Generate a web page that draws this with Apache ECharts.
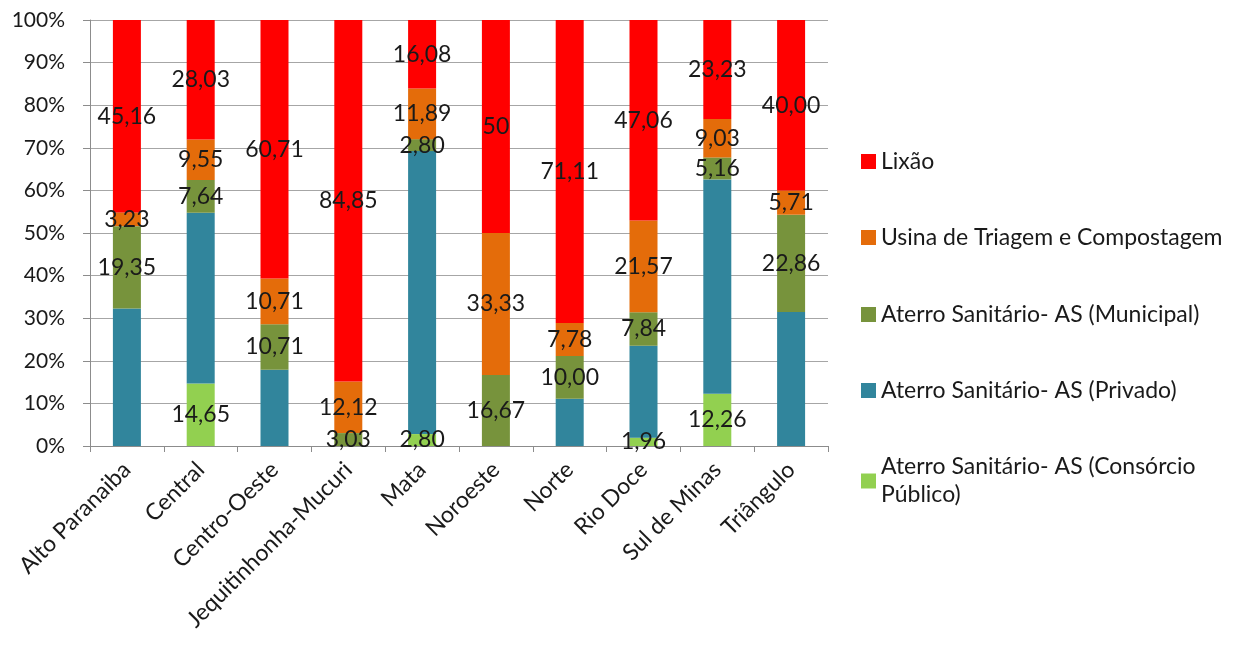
<!DOCTYPE html>
<html>
<head>
<meta charset="utf-8">
<script src="https://cdn.jsdelivr.net/npm/echarts@6/dist/echarts.min.js"></script>
<style>
  html, body { margin: 0; padding: 0; background: #fff; }
  #chart { width: 1237px; height: 646px; }
</style>
</head>
<body>
<div id="chart"></div>
<script>
// Regions of Minas Gerais
const regions = ['Alto Paranaiba', 'Central', 'Centro-Oeste', 'Jequitinhonha-Mucuri', 'Mata',
  'Noroeste', 'Norte', 'Rio Doce', 'Sul de Minas', 'Triângulo'];

// Share (%) of each final-destination type per region; null = none
const consorcio = [null, '14.65', null, null, '2.80', null, null, '1.96', '12.26', null];
const privado   = ['32.26', '40.13', '17.87', null, '66.43', null, '11.11', '21.57', '50.32', '31.43'];
const municipal = ['19.35', '7.64', '10.71', '3.03', '2.80', '16.67', '10.00', '7.84', '5.16', '22.86'];
const usina     = ['3.23', '9.55', '10.71', '12.12', '11.89', '33.33', '7.78', '21.57', '9.03', '5.71'];
const lixao     = ['45.16', '28.03', '60.71', '84.85', '16.08', '50', '71.11', '47.06', '23.23', '40.00'];

const yTicks = [0, 10, 20, 30, 40, 50, 60, 70, 80, 90, 100];

const FONT = 'Lato';
const TEXT = '#1a1a1a';

function makeSeries(name, raw, color, showLabel) {
  return {
    name: name,
    type: 'bar',
    stack: 'total',
    barWidth: 28,
    itemStyle: { color: color },
    data: raw.map(v => (v === null ? null : { value: parseFloat(v), text: v })),
    label: {
      show: showLabel,
      position: 'inside',
      color: TEXT,
      fontFamily: FONT,
      fontSize: 23,
      textBorderWidth: 0,
      formatter: p => (p.data && p.data.text ? p.data.text.replace('.', ',') : '')
    }
  };
}

const names = {
  lixao: 'Lixão',
  usina: 'Usina de Triagem e Compostagem',
  municipal: 'Aterro Sanitário- AS (Municipal)',
  privado: 'Aterro Sanitário- AS (Privado)',
  consorcio: 'Aterro Sanitário- AS (Consórcio\nPúblico)'
};

const legendTops = [150, 226, 303, 379, 439];
const legendOrder = [names.lixao, names.usina, names.municipal, names.privado, names.consorcio];

const chart = echarts.init(document.getElementById('chart'));
chart.setOption({
  animation: false,
  backgroundColor: '#fff',
  grid: { left: 90, right: 409, top: 20, bottom: 200 },
  legend: legendOrder.map((n, i) => ({
    data: [n],
    left: 861,
    top: legendTops[i],
    itemWidth: 15,
    itemHeight: 15,
    itemGap: 0,
    padding: 0,
    selectedMode: false,
    icon: 'rect',
    textStyle: i === 4
      ? { fontFamily: FONT, fontSize: 23, color: TEXT, lineHeight: 28, padding: [28, 0, 0, 0] }
      : { fontFamily: FONT, fontSize: 23, color: TEXT }
  })),
  xAxis: {
    type: 'category',
    data: regions,
    axisLine: { lineStyle: { color: '#8c8c8c', width: 1 } },
    axisTick: { show: true, length: 6, lineStyle: { color: '#8c8c8c' } },
    axisLabel: {
      rotate: 45,
      margin: 20,
      interval: 0,
      fontFamily: FONT,
      fontSize: 23,
      color: TEXT
    }
  },
  yAxis: {
    type: 'value',
    min: yTicks[0],
    max: yTicks[yTicks.length - 1],
    interval: 10,
    axisLine: { show: true, lineStyle: { color: '#8c8c8c', width: 1 } },
    axisTick: { show: true, length: 7, lineStyle: { color: '#8c8c8c' } },
    splitLine: { lineStyle: { color: '#a6a6a6', width: 1 } },
    axisLabel: {
      margin: 25,
      fontFamily: FONT,
      fontSize: 21,
      color: TEXT,
      formatter: v => v + '%'
    }
  },
  series: [
    makeSeries(names.consorcio, consorcio, '#92D050', true),
    makeSeries(names.privado, privado, '#31859C', false),
    makeSeries(names.municipal, municipal, '#77933C', true),
    makeSeries(names.usina, usina, '#E46C0A', true),
    makeSeries(names.lixao, lixao, '#FF0000', true)
  ]
});
</script>
</body>
</html>
